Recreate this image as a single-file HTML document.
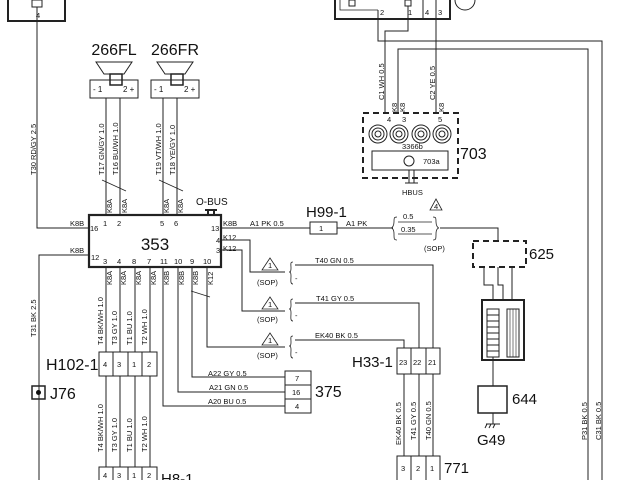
<!DOCTYPE html>
<html><head><meta charset="utf-8"><style>
html,body{margin:0;padding:0;background:#fff;}
svg{display:block;}
text{font-family:"Liberation Sans",sans-serif;fill:#111;}
.s{font-size:7.5px;}
.m{font-size:8px;}
.L{font-size:16px;}
</style></head><body>
<svg width="640" height="480" viewBox="0 0 640 480" xmlns="http://www.w3.org/2000/svg">
<g stroke="#222" fill="none" stroke-width="1">
<path d="M8 0V21H65V0" stroke-width="2"/>
<rect x="32" y="0" width="10" height="7"/>
<path d="M37 7V228H89"/>
<path d="M96 62H132L124 74H104Z"/><rect x="110" y="74" width="12" height="11" stroke-width="1.5"/>
<rect x="90" y="80" width="48" height="18"/>
<path d="M157 62H193L185 74H165Z"/><rect x="171" y="74" width="12" height="11" stroke-width="1.5"/>
<rect x="151" y="80" width="48" height="18"/>
<path d="M106 98V215M120 98V215M163 98V215M177 98V215"/>
<path d="M102 180L126 191M159 180L183 191" stroke-width="0.8"/>
<rect x="89" y="215" width="132" height="52" stroke-width="2.2"/>
<path d="M205 210H217M208 210V215M214 210V215" stroke-width="2"/>
<path d="M221 228H310M337 228H393M440 228H498V241"/>
<rect x="310" y="222" width="27" height="12"/>
<path d="M397 217c-3 0-3 1-3 5s-2 6-3 6c1 0 3 1 3 6s0 6 3 6M433 217c3 0 3 1 3 5s2 6 3 6c-1 0-3 1-3 6s0 6-3 6" stroke-width="0.8"/>
<path d="M398 222H432M398 234H432" stroke-width="0.8"/>
<path d="M430 210L436 199L442 210Z" stroke-width="0.8"/>
<path d="M221 240H250V272H285"/>
<path d="M221 250H242V311H285"/>
<path d="M207 267V347H285"/>
<path d="M192 267V377H285M178 267V392H285M163 267V406H285"/>
<path d="M191 291L210 297" stroke-width="0.8"/>
<path d="M262 270L270 258L278 270Z M262 309L270 297L278 309Z M262 345L270 333L278 345Z" stroke-width="0.8"/>
<path d="M293 262c-3 0-2 2-2 6s-1 4-2 4c1 0 2 0 2 4s-1 8 2 8M293 299c-3 0-2 2-2 6s-1 4-2 4c1 0 2 0 2 4s-1 8 2 8M293 336c-3 0-2 2-2 6s-1 4-2 4c1 0 2 0 2 4s-1 8 2 8" stroke-width="0.8"/>
<path d="M295 265H433V348M295 303H419V348M295 340H404V348"/>
<rect x="397" y="348" width="43" height="26"/><path d="M411 348V374M426 348V374"/>
<path d="M404 374V456M419 374V456M433 374V456"/>
<rect x="397" y="456" width="43" height="30"/><path d="M411 456V480M426 456V480"/>
<rect x="285" y="371" width="26" height="42"/><path d="M285 385H311M285 399H311"/>
<path d="M89 255H39V480"/>
<rect x="32" y="386" width="13" height="13" stroke-width="1.5"/>
<path d="M106 267V352M120 267V352M135 267V352M150 267V352"/>
<rect x="99" y="352" width="58" height="24"/><path d="M113 352V376M128 352V376M142 352V376"/>
<path d="M106 376V467M120 376V467M135 376V467M150 376V467"/>
<rect x="99" y="467" width="58" height="20"/><path d="M113 467V480M128 467V480M142 467V480"/>
<path d="M335 0V19H450V0" stroke-width="2"/>
<path d="M340 0V10H378" stroke-width="0.8"/>
<rect x="349" y="0" width="6" height="6"/><rect x="405" y="0" width="6" height="6"/>
<path d="M423 0V19M436 0V113"/>
<path d="M378 10V41H602V480"/>
<path d="M408 6V31H385V113"/>
<path d="M398 113V49H588V480"/>
<circle cx="465" cy="0" r="10"/>
<rect x="363" y="113" width="95" height="65" stroke-width="2" stroke-dasharray="6 4"/>
<g stroke-width="1">
<circle cx="378" cy="134" r="9"/><circle cx="378" cy="134" r="6"/><circle cx="378" cy="134" r="3"/>
<circle cx="399" cy="134" r="9"/><circle cx="399" cy="134" r="6"/><circle cx="399" cy="134" r="3"/>
<circle cx="421" cy="134" r="9"/><circle cx="421" cy="134" r="6"/><circle cx="421" cy="134" r="3"/>
<circle cx="442" cy="134" r="9"/><circle cx="442" cy="134" r="6"/><circle cx="442" cy="134" r="3"/>
</g>
<rect x="372" y="151" width="76" height="19"/>
<circle cx="409" cy="161" r="5"/>
<path d="M409 170V183M414 170V183M405 183H418"/>
<rect x="473" y="241" width="53" height="26" stroke-width="2" stroke-dasharray="6 4"/>
<path d="M484 267V285H493V300M498 267V285H503V300M512 267V300"/>
<rect x="482" y="300" width="42" height="60" stroke-width="2"/>
<rect x="487" y="309" width="12" height="48"/><path d="M487 315H499M487 321H499M487 327H499M487 333H499M487 339H499M487 345H499M487 351H499"/>
<rect x="507" y="309" width="12" height="48"/><path d="M510 309V357M513 309V357M516 309V357" stroke-width="0.6"/>
<path d="M493 357V386"/>
<rect x="478" y="386" width="29" height="27" stroke-width="1.5"/>
<path d="M493 413V424M486 424H500M487 424L485 428M491 424L489 428M495 424L493 428"/>
</g>
<circle cx="38.5" cy="392.5" r="2.5" fill="#111"/>
<text x="36" y="18" class="s">4</text>
<text x="114" y="55" class="L" text-anchor="middle">266FL</text>
<text x="175" y="55" class="L" text-anchor="middle">266FR</text>
<text x="93" y="92" class="m">- 1</text><text x="123" y="92" class="m">2 +</text>
<text x="154" y="92" class="m">- 1</text><text x="184" y="92" class="m">2 +</text>
<g class="s">
<text transform="translate(36,175) rotate(-90)">T30  RD/GY  2.5</text>
<text transform="translate(104,175) rotate(-90)">T17  GN/GY  1.0</text>
<text transform="translate(118,175) rotate(-90)">T16  BU/WH  1.0</text>
<text transform="translate(161,175) rotate(-90)">T19  VT/WH  1.0</text>
<text transform="translate(175,175) rotate(-90)">T18  YE/GY  1.0</text>
<text transform="translate(112,213) rotate(-90)">K8A</text>
<text transform="translate(127,213) rotate(-90)">K8A</text>
<text transform="translate(169,213) rotate(-90)">K8A</text>
<text transform="translate(183,213) rotate(-90)">K8A</text>
<text x="70" y="226">K8B</text><text x="90" y="231">16</text>
<text x="103" y="226">1</text><text x="117" y="226">2</text><text x="160" y="226">5</text><text x="174" y="226">6</text>
<text x="211" y="231">13</text><text x="223" y="226">K8B</text>
<text x="250" y="226">A1  PK  0.5</text>
<text x="319" y="231">1</text><text x="346" y="226">A1  PK</text>
<text x="403" y="219">0.5</text><text x="401" y="232">0.35</text>
<text x="424" y="251">(SOP)</text><text x="434" y="209">4</text>
<text x="216" y="243">4</text><text x="223" y="240">K12</text>
<text x="216" y="253">3</text><text x="223" y="251">K12</text>
<text x="70" y="253">K8B</text><text x="91" y="260">12</text>
<text x="103" y="264">3</text><text x="117" y="264">4</text><text x="132" y="264">8</text><text x="147" y="264">7</text>
<text x="160" y="264">11</text><text x="174" y="264">10</text><text x="190" y="264">9</text><text x="203" y="264">10</text>
<text transform="translate(112,285) rotate(-90)">K8A</text>
<text transform="translate(126,285) rotate(-90)">K8A</text>
<text transform="translate(141,285) rotate(-90)">K8A</text>
<text transform="translate(156,285) rotate(-90)">K8A</text>
<text transform="translate(169,285) rotate(-90)">K8B</text>
<text transform="translate(184,285) rotate(-90)">K8B</text>
<text transform="translate(198,285) rotate(-90)">K8B</text>
<text transform="translate(213,285) rotate(-90)">K12</text>
<text transform="translate(36,337) rotate(-90)">T31  BK  2.5</text>
<text transform="translate(103,345) rotate(-90)">T4  BK/WH  1.0</text>
<text transform="translate(117,345) rotate(-90)">T3  GY  1.0</text>
<text transform="translate(132,345) rotate(-90)">T1  BU  1.0</text>
<text transform="translate(147,345) rotate(-90)">T2  WH  1.0</text>
<text transform="translate(103,452) rotate(-90)">T4  BK/WH  1.0</text>
<text transform="translate(117,452) rotate(-90)">T3  GY  1.0</text>
<text transform="translate(132,452) rotate(-90)">T1  BU  1.0</text>
<text transform="translate(147,452) rotate(-90)">T2  WH  1.0</text>
<text x="268" y="268">1</text><text x="268" y="307">1</text><text x="268" y="343">1</text>
<text x="257" y="285">(SOP)</text><text x="257" y="322">(SOP)</text><text x="257" y="358">(SOP)</text>
<text x="295" y="281">-</text><text x="295" y="318">-</text><text x="295" y="355">-</text>
<text x="315" y="263">T40  GN  0.5</text>
<text x="316" y="301">T41  GY  0.5</text>
<text x="315" y="338">EK40  BK  0.5</text>
<text x="208" y="376">A22  GY  0.5</text>
<text x="209" y="390">A21  GN  0.5</text>
<text x="208" y="404">A20  BU  0.5</text>
<text x="295" y="381">7</text><text x="292" y="395">16</text><text x="295" y="409">4</text>
<text x="399" y="365">23</text><text x="413" y="365">22</text><text x="428" y="365">21</text>
<text transform="translate(401,445) rotate(-90)">EK40  BK  0.5</text>
<text transform="translate(416,440) rotate(-90)">T41  GY  0.5</text>
<text transform="translate(431,440) rotate(-90)">T40  GN  0.5</text>
<text x="401" y="471">3</text><text x="416" y="471">2</text><text x="430" y="471">1</text>
<text x="103" y="367">4</text><text x="117" y="367">3</text><text x="132" y="367">1</text><text x="147" y="367">2</text>
<text x="103" y="478">4</text><text x="117" y="478">3</text><text x="132" y="478">1</text><text x="147" y="478">2</text>
<text x="380" y="15">2</text><text x="408" y="15">1</text><text x="425" y="15">4</text><text x="438" y="15">3</text>
<text transform="translate(384,100) rotate(-90)">C1  WH  0.5</text>
<text transform="translate(435,100) rotate(-90)">C2  YE  0.5</text>
<text transform="translate(397,112) rotate(-90)">K8</text>
<text transform="translate(405,112) rotate(-90)">K8</text>
<text transform="translate(444,112) rotate(-90)">K8</text>
<text x="387" y="122">4</text><text x="402" y="122">3</text><text x="438" y="122">5</text>
<text x="402" y="149">3366b</text><text x="423" y="164">703a</text>
<text x="402" y="195">HBUS</text>
<text transform="translate(587,440) rotate(-90)">P31  BK  0.5</text>
<text transform="translate(601,440) rotate(-90)">C31  BK  0.5</text>
</g>
<text x="196" y="205" style="font-size:10px">O-BUS</text>
<text x="306" y="217" style="font-size:15px">H99-1</text>
<text x="155" y="250" text-anchor="middle" style="font-size:17px">353</text>
<text x="460" y="159" class="L">703</text>
<text x="529" y="259" style="font-size:15px">625</text>
<text x="512" y="404" style="font-size:15px">644</text>
<text x="477" y="445" style="font-size:15px">G49</text>
<text x="315" y="397" class="L">375</text>
<text x="352" y="367" style="font-size:15px">H33-1</text>
<text x="444" y="473" style="font-size:15px">771</text>
<text x="46" y="370" class="L">H102-1</text>
<text x="50" y="399" class="L">J76</text>
<text x="161" y="484" style="font-size:15px">H8-1</text>
</svg>
</body></html>
